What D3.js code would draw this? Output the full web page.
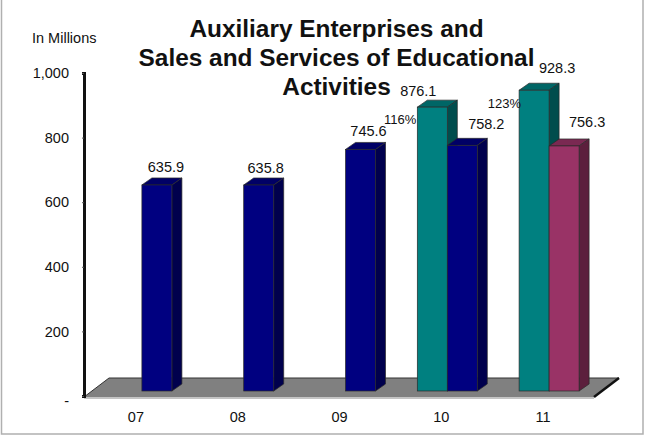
<!DOCTYPE html>
<html><head><meta charset="utf-8">
<script src="https://cdn.jsdelivr.net/npm/d3@7"></script>
<style>html,body{margin:0;padding:0;background:#fff}svg{display:block}text{font-family:"Liberation Sans",Arial,sans-serif;fill:#111}</style>
</head><body><div id="c"></div>
<script>
const categories = ["07","08","09","10","11"];
const tealValues = [null,null,null,876.1,928.3];
const blueValues = [635.9,635.8,745.6,758.2,null];
const plumValues = [null,null,null,null,756.3];
const pctLabels = [null,null,null,"116%","123%"];
const yTicks = [0,200,400,600,800,1000];
const titleLines = ["Auxiliary Enterprises and","Sales and Services of Educational","Activities"];

const W=645,H=440;
const svg=d3.select("#c").append("svg").attr("width",W).attr("height",H);
// frame
svg.append("path").attr("d","M1.5,0V434H643V0").attr("fill","none").attr("stroke","#b0b0b0").attr("stroke-width",1.5);

const dx=10,dy=7;
const yAxisScale=d3.scaleLinear().domain([0,1000]).range([396,73]);
const yBar=d3.scaleLinear().domain([0,1000]).range([391,67]);
const x=d3.scaleBand().domain(categories).range([91,600]);
const barW=30;
const slotLeft=(c,slot)=>x(c)+x.bandwidth()/2+(slot===0?-barW:0);

// floor
const fl=[[84,397],[109,378],[619,378],[594,397]];
svg.append("path").attr("d",d3.line()([[84,398],[594,398]])).attr("stroke","#c4c4c4").attr("stroke-width",2);
svg.append("path").attr("d",d3.line()(fl)+"Z").attr("fill","#808080");
svg.append("path").attr("d",d3.line()([[84,397],[109,378],[619,378]])).attr("fill","none").attr("stroke","#333").attr("stroke-width",1);
svg.append("path").attr("d",d3.line()([[594,397],[619,378]])).attr("stroke","#111").attr("stroke-width",2.5);

// axis
const axis=d3.axisLeft(yAxisScale).tickValues(yTicks).tickSize(2).tickPadding(13)
  .tickFormat(v=>v===0?"-":d3.format(",")(v));
const ag=svg.append("g").attr("transform","translate(84,0)").call(axis);
ag.select(".domain").attr("stroke","#111").attr("stroke-width",3);
ag.selectAll(".tick line").attr("stroke","#555");
ag.selectAll("text").attr("font-size",14.5).attr("fill","#111");
ag.selectAll(".tick text").filter(v=>v===0).attr("dy","0.65em");

// bars
const series=[
 {vals:tealValues,slot:0,front:"#008080",side:"#004d4d",top:"#006666"},
 {vals:blueValues,slot:1,front:"#000080",side:"#00004d",top:"#000066"},
 {vals:plumValues,slot:1,front:"#993366",side:"#5c1f3d",top:"#7a2952"}
];
const bars=[];
series.forEach(s=>s.vals.forEach((v,i)=>{if(v!=null)bars.push({c:categories[i],v,...s});}));
bars.sort((a,b)=>(slotLeft(a.c,a.slot)-slotLeft(b.c,b.slot)));
const g=svg.selectAll("g.bar").data(bars).join("g").attr("class","bar");
const edge="#2a2a2a";
g.append("path").attr("fill",d=>d.top).attr("stroke",edge).attr("stroke-width",.7).attr("d",d=>{
  const l=slotLeft(d.c,d.slot),t=yBar(d.v);
  return d3.line()([[l,t],[l+dx,t-dy],[l+barW+dx,t-dy],[l+barW,t]])+"Z";});
g.append("path").attr("fill",d=>d.side).attr("stroke",edge).attr("stroke-width",.7).attr("d",d=>{
  const l=slotLeft(d.c,d.slot)+barW,t=yBar(d.v),b=yBar(0);
  return d3.line()([[l,t],[l+dx,t-dy],[l+dx,b-dy],[l,b]])+"Z";});
g.append("rect").attr("fill",d=>d.front).attr("stroke",edge).attr("stroke-width",.7)
  .attr("x",d=>slotLeft(d.c,d.slot)).attr("width",barW)
  .attr("y",d=>yBar(d.v)).attr("height",d=>yBar(0)-yBar(d.v));

// value labels
const nudges={"07|1":[24,-18],"08|1":[22,-17],"09|1":[23,-18],"10|0":[1,-16],"10|1":[39,-21],"11|0":[38,-22],"11|2":[38,-24]};
series.forEach((s,si)=>s.vals.forEach((v,i)=>{
  if(v==null)return;
  const c=categories[i],n=nudges[c+"|"+si];
  svg.append("text").attr("x",slotLeft(c,s.slot)+n[0]).attr("y",yBar(v)+n[1])
    .attr("text-anchor","middle").attr("dominant-baseline","central").attr("font-size",14.5).text(v.toFixed(1));
}));
// percent labels
const pctNudge={"10":[-1,12],"11":[2,13]};
pctLabels.forEach((p,i)=>{
  if(!p)return;
  const c=categories[i],l=slotLeft(c,0),n=pctNudge[c];
  svg.append("text").attr("x",l+n[0]).attr("y",yBar(tealValues[i])+n[1]).attr("text-anchor","end")
    .attr("dominant-baseline","central").attr("font-size",13).text(p);
});

// category labels
svg.selectAll("text.cat").data(categories).join("text").attr("class","cat")
  .attr("x",d=>x(d)+x.bandwidth()/2-6).attr("y",422).attr("text-anchor","middle").attr("font-size",14.5).text(d=>d);

// titles
svg.append("text").attr("x",32).attr("y",43).attr("font-size",14.5).text("In Millions");
svg.selectAll("text.t").data(titleLines).join("text").attr("class","t")
  .attr("x",336.5).attr("y",(d,i)=>37+i*29).attr("text-anchor","middle")
  .attr("font-size",24.4).attr("font-weight","bold").attr("fill","#000").text(d=>d);
</script></body></html>
